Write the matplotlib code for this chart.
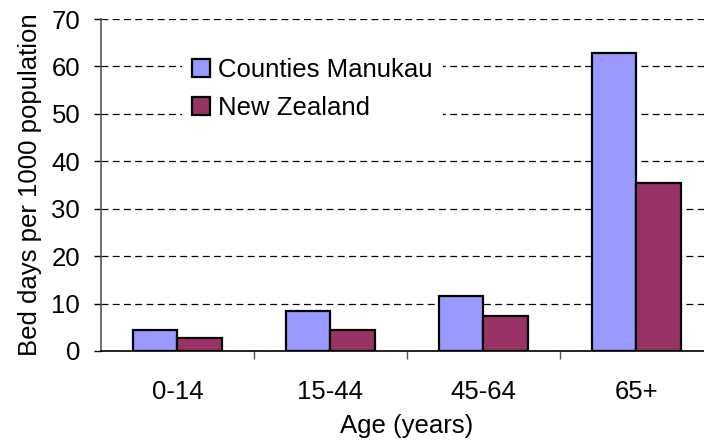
import matplotlib
matplotlib.use("Agg")
import matplotlib.pyplot as plt
import numpy as np

plt.rcParams["font.family"] = ["Liberation Sans", "DejaVu Sans"]

AGE_GROUPS = ["0-14", "15-44", "45-64", "65+"]
COUNTIES_MANUKAU = [4.4, 8.4, 11.7, 62.8]
NEW_ZEALAND = [2.7, 4.4, 7.4, 35.5]
Y_TICKS = [0, 10, 20, 30, 40, 50, 60, 70]

BLUE = "#9999FF"
PURPLE = "#993366"
BAR_W = 0.29
FS = 18.5

fig = plt.figure(figsize=(7.04, 4.41), dpi=100)
ax = fig.add_axes([0.1435, 0.2041, 0.869, 0.7528])

x = np.arange(len(AGE_GROUPS))
ax.bar(x - BAR_W / 2, COUNTIES_MANUKAU, BAR_W, color=BLUE, edgecolor="black",
       linewidth=1.6, label="Counties Manukau", zorder=3)
ax.bar(x + BAR_W / 2, NEW_ZEALAND, BAR_W, color=PURPLE, edgecolor="black",
       linewidth=1.6, label="New Zealand", zorder=3)

ax.set_xlim(-0.5, len(AGE_GROUPS) - 0.5)
ax.set_ylim(0, 70)
ax.set_yticks(Y_TICKS)
ax.yaxis.grid(True, linestyle=(0, (5.5, 3.5)), color="black", linewidth=0.9, zorder=0)
ax.set_axisbelow(True)

# category labels centred, ticks on the category boundaries
ax.set_xticks(x)
ax.set_xticklabels(AGE_GROUPS, fontsize=FS)
ax.tick_params(axis="x", which="major", length=0, pad=21)
ax.set_xticks(np.arange(0.5, len(AGE_GROUPS) - 0.5 + 1, 1.0), minor=True)
ax.tick_params(axis="x", which="minor", length=6, width=1, color="#555555")
ax.tick_params(axis="y", length=5, width=1, pad=10, labelsize=FS)

for side in ("top", "right"):
    ax.spines[side].set_visible(False)
ax.spines["left"].set_color("#555555")
ax.spines["left"].set_linewidth(1.2)
ax.spines["bottom"].set_color("black")
ax.spines["bottom"].set_linewidth(1.2)

ax.set_xlabel("Age (years)", fontsize=FS, labelpad=7)
ax.set_ylabel("Bed days per 1000 population", fontsize=FS, labelpad=7)

leg = ax.legend(loc="upper left", bbox_to_anchor=(0.132, 0.915), fontsize=FS,
                frameon=True, fancybox=False, facecolor="white",
                edgecolor="none", framealpha=1.0, handlelength=0.7,
                handleheight=0.7, handletextpad=0.3, labelspacing=0.55,
                borderpad=0.4, borderaxespad=0.0)
leg.set_zorder(2)
for h in leg.legend_handles:
    h.set_linewidth(1.6)

fig.savefig("out.png", dpi=100)
